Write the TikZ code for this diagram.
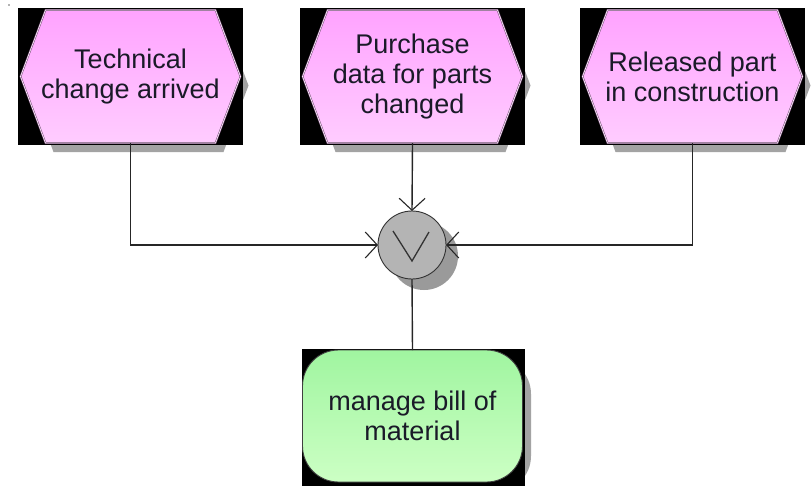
\documentclass[tikz,border=0pt]{standalone}
\usepackage{fontspec}
\setmainfont{Liberation Sans}
\usetikzlibrary{arrows.meta,calc}
\definecolor{evtop}{HTML}{FFA3FF}
\definecolor{evbot}{HTML}{FFCCFF}
\definecolor{evline}{HTML}{6E4A6E}
\definecolor{fntop}{HTML}{A0F5A0}
\definecolor{fnbot}{HTML}{CCFFC4}
\definecolor{shadowgray}{HTML}{A3A3A3}
\definecolor{orgray}{HTML}{B4B4B4}
\definecolor{orshadow}{HTML}{9A9A9A}
\definecolor{txt}{HTML}{1A1A28}
\newcommand\hexpath[3]{($(#1)+(-110+#2,#3)$) -- ($(#1)+(-85+#2,-66.5+#3)$) -- ($(#1)+(85+#2,-66.5+#3)$) -- ($(#1)+(110+#2,#3)$) -- ($(#1)+(85+#2,66.5+#3)$) -- ($(#1)+(-85+#2,66.5+#3)$) -- cycle}
\newcommand\evbg[1]{%
  \fill[shadowgray] \hexpath{#1}{8}{9};
  \fill[black] ($(#1)+(-112.5,-68.5)$) rectangle ($(#1)+(112.5,68.5)$);
  \shade[top color=evtop, bottom color=evbot] \hexpath{#1}{0}{0};
  \draw[evline, line width=0.5pt, double=evbot!40!white, double distance=0.7pt] \hexpath{#1}{0}{0};
}
\begin{document}
\begin{tikzpicture}[x=1pt,y=-1pt,
  lbl/.style={font=\fontsize{27}{30}\selectfont, text=txt, align=center, inner sep=0pt, outer sep=0pt, minimum width=222pt, minimum height=133pt},
  fnbox/.style={lbl, minimum width=220pt, minimum height=132pt, rounded corners=36pt, top color=fntop, bottom color=fnbot, draw=black!75, line width=0.9pt},
  orbox/.style={circle, minimum size=68pt, inner sep=0pt, outer sep=0pt, fill=orgray, draw=black!80, line width=0.9pt},
  conn/.style={draw=black!85, line width=1.4pt},
  tip/.style={-{Straight Barb[length=12pt,width=26pt,line width=1.1pt]}}
]
\useasboundingbox (0,0) rectangle (811,485);
\fill[black!60] (9,5) circle (0.8);
\coordinate (c1) at (130.5,76.5);
\coordinate (c2) at (412.5,76.5);
\coordinate (c3) at (692.5,76.5);
\evbg{c1}
\evbg{c2}
\evbg{c3}
\node[lbl] (e1) at (c1) {Technical\\change arrived};
\node[lbl] (e2) at (c2) {Purchase\\data for parts\\changed};
\node[lbl] (e3) at (c3) {Released part\\in construction};
% OR connector
\fill[orshadow] (424,256) circle (34);
\node[orbox] (or) at (412,245) {};
\draw[line width=1.3pt, black!80] ($(or)+(-19,-14)$) -- ($(or)+(0,16)$) -- ($(or)+(17,-13)$);
% function
\fill[shadowgray, rounded corners=36pt] (311,358) rectangle (531,492);
\fill[black] (302,349) rectangle (525,486);
\node[fnbox] (fn) at (412.5,416) {manage bill of\\material};
% connectors
\draw[conn,tip] (e1.south) |- (or.west);
\draw[conn,tip] (e2.south) -- (or.north);
\draw[conn,tip] (e3.south) |- (or.east);
\draw[conn] (or.south) -- (fn.north);
\end{tikzpicture}
\end{document}
